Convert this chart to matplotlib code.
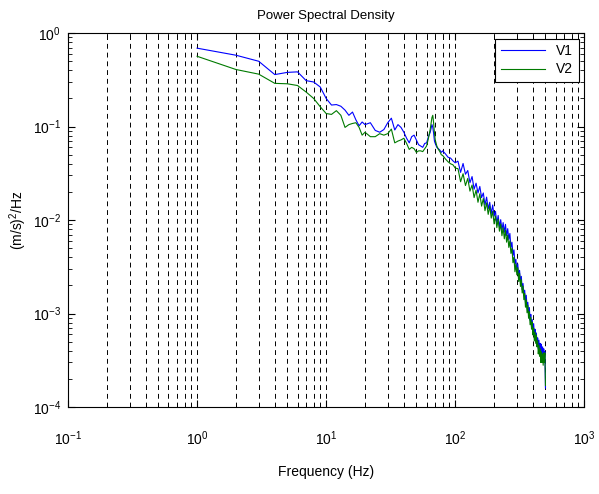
import matplotlib
matplotlib.use('Agg')
import matplotlib.pyplot as plt
import numpy as np
from matplotlib.ticker import LogLocator, NullFormatter

plt.rcParams['font.family'] = ['Liberation Sans', 'DejaVu Sans']
plt.rcParams['mathtext.default'] = 'regular'

# frequencies (Hz): fine steps below 100 Hz, 5 Hz steps above
freq_lo = [1, 2, 3, 4, 5, 6, 7, 8, 9, 10, 11, 12, 13, 14, 15, 16, 17, 18, 19, 20,
           22, 24, 26, 28, 30, 32, 34, 36, 38, 40, 42, 44, 46, 48, 50, 52, 54, 56, 58, 60,
           62, 64, 66, 67, 68, 69, 70, 72, 74, 76, 78, 80, 84, 88, 92, 96, 100]
freq_hi = list(range(105, 505, 5))

v1_lo = [0.69, 0.58, 0.50, 0.36, 0.38, 0.385, 0.31, 0.30, 0.265, 0.20, 0.17, 0.172, 0.165, 0.15,
         0.132, 0.143, 0.118, 0.102, 0.112, 0.105,
         0.110, 0.091, 0.087, 0.093, 0.110, 0.123, 0.092, 0.105, 0.098, 0.087, 0.075, 0.067,
         0.078, 0.081, 0.072, 0.064, 0.062, 0.060, 0.066, 0.067,
         0.078, 0.087, 0.105, 0.098, 0.085, 0.070, 0.066, 0.060, 0.058, 0.056, 0.053, 0.055,
         0.051, 0.047, 0.046, 0.043, 0.041]
v1_hi = [0.0427, 0.0324, 0.0403, 0.0309, 0.0339, 0.0251, 0.0292, 0.0214, 0.0248, 0.0195,
         0.0229, 0.0174, 0.0195, 0.0145, 0.0176, 0.0132, 0.0155, 0.0117, 0.0145, 0.0110,
         0.0124, 0.0091, 0.0112, 0.0085, 0.0101, 0.0078, 0.0094, 0.0074, 0.0090, 0.0068,
         0.0081, 0.0062, 0.0072, 0.0051, 0.0058, 0.0042, 0.0048, 0.0034, 0.0038, 0.0028,
         0.0034, 0.0025, 0.0029, 0.0022, 0.0025, 0.0018, 0.0021, 0.00155, 0.00178, 0.00132,
         0.00157, 0.00115, 0.00132, 0.00098, 0.00116, 0.00085, 0.00098, 0.00072, 0.00086, 0.00065,
         0.00078, 0.00058, 0.00068, 0.00051, 0.00062, 0.00047, 0.00055, 0.00042, 0.00052, 0.00040,
         0.00048, 0.00037, 0.00047, 0.00035, 0.00044, 0.00034, 0.00042, 0.00032, 0.00039, 0.00016]

v2_lo = [0.565, 0.408, 0.364, 0.29, 0.287, 0.275, 0.234, 0.20, 0.163, 0.138, 0.135, 0.148, 0.132,
         0.098, 0.105, 0.108, 0.110, 0.098, 0.081, 0.087,
         0.078, 0.078, 0.084, 0.081, 0.084, 0.094, 0.067, 0.070, 0.072, 0.075, 0.066, 0.057,
         0.060, 0.058, 0.053, 0.055, 0.055, 0.054, 0.058, 0.062,
         0.075, 0.094, 0.125, 0.132, 0.110, 0.085, 0.072, 0.062, 0.057, 0.054, 0.050, 0.049,
         0.045, 0.042, 0.040, 0.039, 0.036]
v2_hi = [0.0355, 0.0257, 0.0313, 0.0234, 0.0279, 0.0204, 0.0237, 0.0174, 0.0209, 0.0155,
         0.0191, 0.0141, 0.0170, 0.0126, 0.0153, 0.0115, 0.0141, 0.0105, 0.0124, 0.0091,
         0.0111, 0.0083, 0.0102, 0.0076, 0.0091, 0.0068, 0.0083, 0.0063, 0.0078, 0.0058,
         0.0069, 0.0051, 0.0060, 0.0044, 0.0050, 0.0035, 0.0040, 0.0028, 0.0034, 0.0026,
         0.0031, 0.0022, 0.0027, 0.00195, 0.0023, 0.00166, 0.00197, 0.00141, 0.00164, 0.00117,
         0.0014, 0.00102, 0.00123, 0.00089, 0.00105, 0.00076, 0.00091, 0.00068, 0.00081, 0.00059,
         0.0007, 0.00051, 0.00063, 0.00048, 0.00059, 0.00044, 0.00051, 0.00037, 0.00046, 0.00035,
         0.00042, 0.0003, 0.00039, 0.0003, 0.00037, 0.00028, 0.00038, 0.0003, 0.00038, 0.00017]

freq = freq_lo + freq_hi
v1 = v1_lo + v1_hi
v2 = v2_lo + v2_hi

fig = plt.figure(figsize=(5.99, 4.94), dpi=100)
ax = fig.add_axes([0.1135, 0.176, 0.862, 0.757])

ax.loglog(freq, v1, color='#0000ff', lw=0.8, label='V1')
ax.loglog(freq, v2, color='#007a00', lw=0.8, label='V2')

ax.set_xlim(0.1, 1000)
ax.set_ylim(1e-4, 1)

# dashed vertical grid on every major and minor x tick
ax.xaxis.set_minor_locator(LogLocator(base=10, subs=np.arange(2, 10), numticks=20))
ax.xaxis.set_minor_formatter(NullFormatter())
ax.yaxis.set_minor_locator(LogLocator(base=10, subs=np.arange(2, 10), numticks=20))
ax.yaxis.set_minor_formatter(NullFormatter())
ax.grid(True, which='both', axis='x', color='black', linestyle=(0, (5, 4)), lw=0.7)

ax.tick_params(which='both', direction='in', top=True, right=True, labelsize=10)
ax.tick_params(axis='x', which='major', pad=16)
ax.tick_params(axis='y', which='major', pad=5)
ax.tick_params(which='major', length=5)
ax.tick_params(which='minor', length=3)
for s in ax.spines.values():
    s.set_linewidth(0.8)

ax.set_title('Power Spectral Density', fontsize=9.5, pad=10)
ax.set_xlabel('Frequency (Hz)', fontsize=10, labelpad=12)
ax.set_ylabel('(m/s)$^2$/Hz', fontsize=10, labelpad=3)

leg = ax.legend(loc='upper right', fancybox=False, edgecolor='black', framealpha=1,
                fontsize=10, handlelength=3.2, borderaxespad=0.4, labelspacing=0.3)
leg.get_frame().set_linewidth(0.8)

fig.savefig('out.png', dpi=100)
